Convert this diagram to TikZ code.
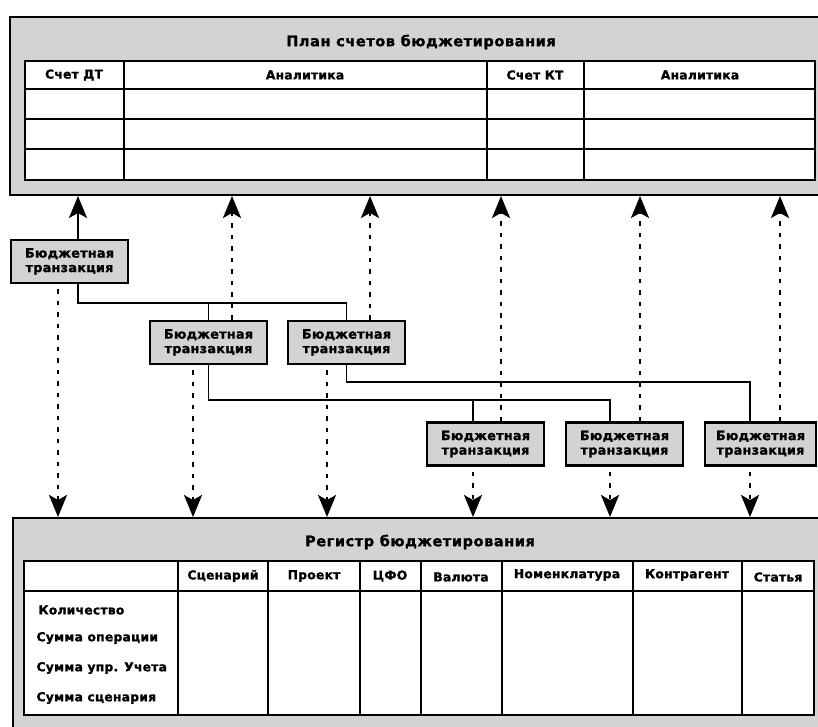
\documentclass[tikz,border=0pt]{standalone}
\usepackage{fontspec}
\setsansfont{DejaVu Sans}[LetterSpace=2, BoldFeatures={FakeBold=1.3}]
\newfontfamily\ttlfont{DejaVu Sans}[LetterSpace=4, BoldFeatures={FakeBold=1.3}]
\usepackage{tikz}
\usetikzlibrary{arrows.meta,positioning,calc}
\definecolor{pgrey}{RGB}{209,211,212}

\begin{document}
\begin{tikzpicture}[
  x=1pt, y=-1pt,
  font=\sffamily\bfseries\fontsize{12.3}{14}\selectfont,
  panel/.style={draw, fill=pgrey, line width=2pt, anchor=north west, inner sep=0pt},
  trans/.style={draw, fill=pgrey, line width=2.2pt, minimum width=117pt, minimum height=43pt, align=center, inner sep=0pt,
    font=\sffamily\bfseries\fontsize{12.8}{14.5}\selectfont},
  ttl/.style={font=\ttlfont\bfseries\fontsize{14.5}{16}\selectfont},
  tab/.style={line width=2pt},
  >={Stealth[length=22pt, width=18pt, inset=5pt]},
  arrline/.style={->, line width=1.8pt},
  dotline/.style={->, line width=2.5pt, dash pattern=on 4.5pt off 7pt},
  tree/.style={line width=1.8pt},
]
\useasboundingbox (0,0) rectangle (818,727);

% ============ Plan of accounts (top) ============
\node[panel, minimum width=830pt, minimum height=178pt] (plan) at (9,16) {};
\node[ttl] (plantitle) at (421,42) {План счетов бюджетирования};
\draw[tab, fill=white] (25,61) rectangle (815,180);
\foreach \y in {89,119,149} \draw[tab] (25,\y) -- (815,\y);
\foreach \x in {124,487,584} \draw[tab] (\x,61) -- (\x,180);
\node (hdt) at (74,75) {Счет ДТ};
\node (han1) at (305,75) {Аналитика};
\node (hkt) at (535,75) {Счет КТ};
\node (han2) at (700,75) {Аналитика};

% ============ Budget register (bottom) ============
\node[panel, minimum width=830pt, minimum height=240pt] (reg) at (12,517) {};
\node[ttl] (regtitle) at (420,542) {Регистр бюджетирования};
\draw[tab, fill=white] (24,561) rectangle (814,715);
\draw[tab] (24,591) -- (814,591);
\foreach \x in {178,268,360,421,502,633,742} \draw[tab] (\x,561) -- (\x,715);
\node (cscen) at (223,576) {Сценарий};
\node (cproj) at (314,576) {Проект};
\node (ccfo) at (390,576) {ЦФО};
\node (ccur) at (461,577) {Валюта};
\node (cnom) at (567,575) {Номенклатура};
\node (ccnt) at (687,575) {Контрагент};
\node (cart) at (778,577) {Статья};
\node[anchor=west] (rqty) at (35,610) {Количество};
\node[anchor=west] (rop) at (33,638) {Сумма операции};
\node[anchor=west] (rupr) at (33,668) {Сумма упр. Учета};
\node[anchor=west] (rscn) at (33,698) {Сумма сценария};

% ============ Budget transactions ============
\node[trans] (b1) at (69.5,261.5) {Бюджетная\\транзакция};
\node[trans] (b2) at (208.5,342.5) {Бюджетная\\транзакция};
\node[trans] (b3) at (346.5,342.5) {Бюджетная\\транзакция};
\node[trans] (b4) at (485.5,444) {Бюджетная\\транзакция};
\node[trans] (b5) at (624.5,444) {Бюджетная\\транзакция};
\node[trans, minimum width=111pt] (b6) at (760.5,444) {Бюджетная\\транзакция};

% ===================== ARROWS =====================

% tree of transactions
\coordinate (k1) at (78,303);
\coordinate (k2) at (208.5,400);
\coordinate (k3) at (346.5,382);
\coordinate (i4) at (473,0);
\coordinate (i5) at (610,0);
\coordinate (i6) at (750,0);
\draw[tree] (b1.south -| k1) -- (k1) -| (b3.north);
\draw[tree] (b2.north) |- (k1);
\draw[tree] (b2.south) -- (k2) -| (b5.north -| i5);
\draw[tree] (b4.north -| i4) |- (k2);
\draw[tree] (b3.south) -- (k3) -| (b6.north -| i6);

% up to the plan of accounts
\draw[arrline] (b1.north -| k1) -- (plan.south -| k1);
\coordinate (u2) at (232,0);
\coordinate (u3) at (370,0);
\coordinate (u4) at (501,0);
\coordinate (u5) at (640,0);
\coordinate (u6) at (780,0);
\foreach \b in {2,...,6}
  \draw[dotline] (b\b.north -| u\b) -- (plan.south -| u\b);

% down to the register
\coordinate (d1) at (58,0);
\coordinate (d2) at (193,0);
\coordinate (d3) at (327,0);
\coordinate (d4) at (473,0);
\coordinate (d5) at (610,0);
\coordinate (d6) at (750,0);
\foreach \b in {1,...,6}
  \draw[dotline, shorten <=5pt] (b\b.south -| d\b) -- (reg.north -| d\b);

\end{tikzpicture}
\end{document}
